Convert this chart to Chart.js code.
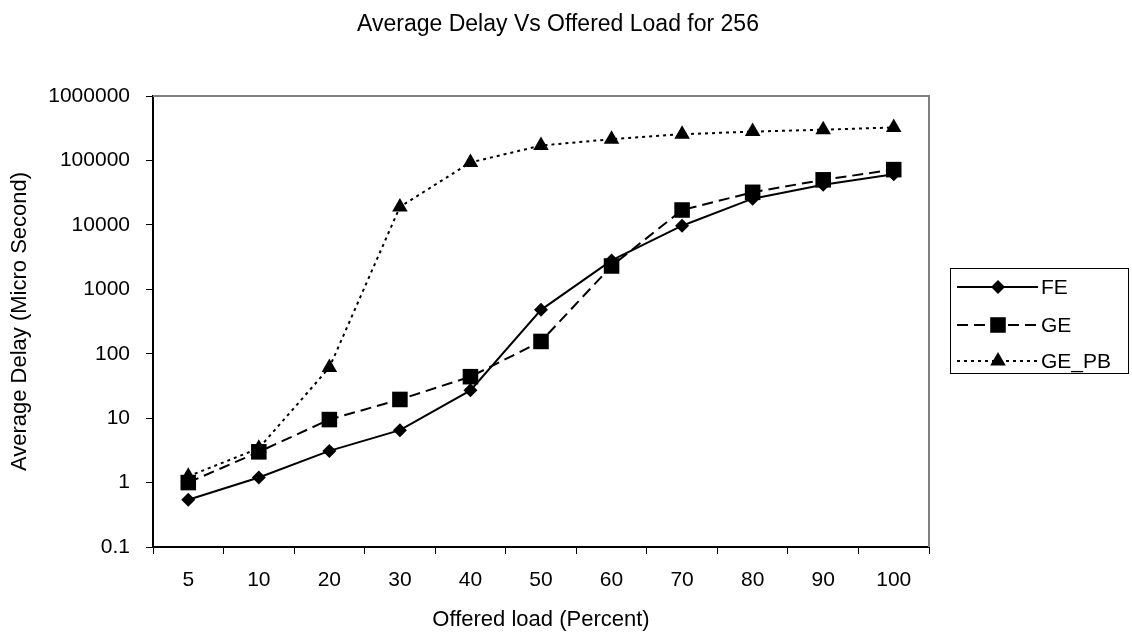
<!DOCTYPE html>
<html><head><meta charset="utf-8">
<script src="https://cdn.jsdelivr.net/npm/chart.js@4.4.1/dist/chart.umd.min.js"></script>
<style>html,body{margin:0;padding:0;background:#fff;overflow:hidden}#wrap{width:1132px;height:638px;position:relative}</style>
</head><body><div id="wrap"><canvas id="c" width="1132" height="638"></canvas></div>
<script>
const categories = ['5','10','20','30','40','50','60','70','80','90','100'];
const feValues   = [0.54, 1.2, 3.1, 6.5, 27, 480, 2800, 9700, 25500, 42000, 61000];
const geValues   = [1.0, 3.0, 9.5, 19.5, 44, 155, 2300, 17000, 32000, 50000, 72000];
const gePbValues = [1.25, 3.4, 61, 19000, 93000, 170000, 214000, 255000, 280000, 300000, 325000];
const yTickValues = [0.1, 1, 10, 100, 1000, 10000, 100000, 1000000];
const seriesNames = ['FE', 'GE', 'GE_PB'];
const titleText = 'Average Delay Vs Offered Load for 256';
const xTitleText = 'Offered load (Percent)';
const yTitleText = 'Average Delay (Micro Second)';

const FONT = "'Liberation Sans', Arial, sans-serif";
const FS_TICK = 21;
const FS_AXIS = 22;
const FS_TITLE = 23;
const styles = [
  {pointStyle: 'rectRot', r: 7, dash: []},
  {pointStyle: 'rect', r: 11, dash: [11, 6]},
  {pointStyle: 'triangle', r: 9, dash: [3, 4]}
];

function drawMarker(ctx, style, x, y, r) {
  ctx.beginPath();
  if (style === 'rectRot') {
    ctx.moveTo(x, y - r); ctx.lineTo(x + r, y); ctx.lineTo(x, y + r); ctx.lineTo(x - r, y);
  } else if (style === 'rect') {
    const s = r * Math.SQRT1_2; ctx.rect(x - s, y - s, 2 * s, 2 * s);
  } else {
    const a = 2 * Math.PI / 3;
    ctx.moveTo(x, y - r);
    ctx.lineTo(x + Math.sin(a) * r, y - Math.cos(a) * r);
    ctx.lineTo(x + Math.sin(2 * a) * r, y - Math.cos(2 * a) * r);
  }
  ctx.closePath(); ctx.fill();
}

const decorPlugin = {
  id: 'decor',
  beforeDatasetsDraw(chart) {
    const {ctx, chartArea: a} = chart;
    ctx.save();
    ctx.strokeStyle = '#808080'; ctx.lineWidth = 2;
    ctx.beginPath(); ctx.moveTo(a.left, a.top); ctx.lineTo(a.right, a.top); ctx.lineTo(a.right, a.bottom); ctx.stroke();
    ctx.restore();
  },
  afterDraw(chart) {
    const ctx = chart.ctx;
    ctx.save();
    ctx.fillStyle = '#000';
    ctx.font = FS_TITLE + 'px ' + FONT;
    ctx.textAlign = 'center'; ctx.textBaseline = 'alphabetic';
    ctx.fillText(titleText, 558, 31);
    // legend
    ctx.font = FS_TICK + 'px ' + FONT;
    ctx.textBaseline = 'middle';
    ctx.strokeStyle = '#000'; ctx.lineWidth = 1;
    ctx.strokeRect(950.5, 268.5, 178, 105);
    const rows = [287, 325, 361];
    seriesNames.forEach((n, i) => {
      const y = rows[i];
      ctx.setLineDash(styles[i].dash); ctx.lineWidth = 2;
      ctx.beginPath(); ctx.moveTo(957, y); ctx.lineTo(1038, y); ctx.stroke();
      ctx.setLineDash([]);
      drawMarker(ctx, styles[i].pointStyle, 998, y, styles[i].r);
      ctx.textAlign = 'left';
      ctx.fillText(n, 1041, y + 1);
    });
    ctx.restore();
  }
};

const allValues = [feValues, geValues, gePbValues];
new Chart(document.getElementById('c'), {
  type: 'line',
  data: {
    labels: categories,
    datasets: seriesNames.map((n, i) => ({
      label: n, data: allValues[i],
      borderColor: '#000', backgroundColor: '#000', borderWidth: 2,
      borderDash: styles[i].dash, pointStyle: styles[i].pointStyle,
      pointRadius: styles[i].r, pointHoverRadius: styles[i].r,
      pointBorderWidth: 0, tension: 0, fill: false
    }))
  },
  options: {
    responsive: false, animation: false, devicePixelRatio: 1,
    layout: {padding: {top: 96, right: 203, bottom: 0, left: 0}},
    plugins: {legend: {display: false}, title: {display: false}, tooltip: {enabled: false}},
    scales: {
      x: {
        type: 'category', offset: true,
        grid: {offset: true, drawOnChartArea: false, drawTicks: true, tickLength: 7, color: '#000', lineWidth: 1},
        border: {display: true, color: '#000', width: 2},
        ticks: {color: '#000', font: {family: FONT, size: FS_TICK}, padding: 14, autoSkip: false, maxRotation: 0},
        title: {display: true, text: xTitleText, color: '#000', font: {family: FONT, size: FS_AXIS}, padding: {top: 0, bottom: 5}},
        afterFit(s) { s.height = 91; }
      },
      y: {
        type: 'logarithmic', min: 0.1, max: 1000000,
        afterBuildTicks(s) { s.ticks = yTickValues.map(v => ({value: v})); },
        grid: {drawOnChartArea: false, drawTicks: true, tickLength: 7, color: '#000', lineWidth: 1},
        border: {display: true, color: '#000', width: 2},
        ticks: {color: '#000', font: {family: FONT, size: FS_TICK}, padding: 16, autoSkip: false,
          callback: (v) => yTickValues.includes(v) ? String(v) : ''},
        title: {display: true, text: yTitleText, color: '#000', font: {family: FONT, size: FS_AXIS}, padding: {top: 7, bottom: 0}},
        afterFit(s) { s.width = 153; }
      }
    }
  },
  plugins: [decorPlugin]
});
</script></body></html>
